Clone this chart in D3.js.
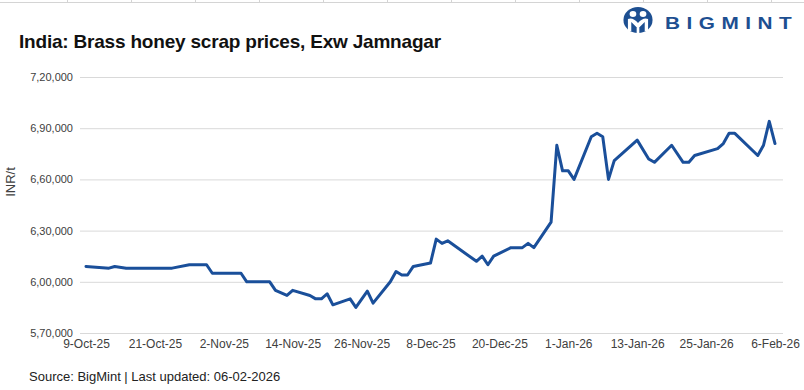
<!DOCTYPE html>
<html>
<head>
<meta charset="utf-8">
<script src="https://cdn.jsdelivr.net/npm/d3@7"></script>
<style>
  html, body { margin: 0; padding: 0; background: #fff; }
  svg { display: block; }
</style>
</head>
<body>
<svg id="chart" width="804" height="390"></svg>
<script>
// ---- data ----
const dates = [
  "2025-10-09","2025-10-13","2025-10-14","2025-10-16","2025-10-24","2025-10-27","2025-10-30","2025-10-31",
  "2025-11-05","2025-11-06","2025-11-10","2025-11-11","2025-11-13","2025-11-14","2025-11-17","2025-11-18",
  "2025-11-19","2025-11-20","2025-11-21","2025-11-24","2025-11-25","2025-11-27","2025-11-28","2025-12-01",
  "2025-12-02","2025-12-03","2025-12-04","2025-12-05","2025-12-08","2025-12-09","2025-12-10","2025-12-11",
  "2025-12-16","2025-12-17","2025-12-18","2025-12-19","2025-12-22","2025-12-24","2025-12-25","2025-12-26",
  "2025-12-29","2025-12-30","2025-12-31","2026-01-01","2026-01-02","2026-01-05","2026-01-06","2026-01-07",
  "2026-01-08","2026-01-09","2026-01-13","2026-01-15","2026-01-16","2026-01-19","2026-01-21","2026-01-22",
  "2026-01-23","2026-01-27","2026-01-28","2026-01-29","2026-01-30","2026-02-03","2026-02-04","2026-02-05",
  "2026-02-06"
];
const prices = [
  609000,608000,609000,608000,608000,610000,610000,605000,
  605000,600000,600000,595000,592000,595000,592000,590000,
  590000,593000,586500,590000,585000,594500,587500,600000,
  606000,604000,604000,609000,611000,625000,622500,624000,
  612000,615000,610000,615000,620000,620000,622500,620000,
  635000,680000,665000,665000,660000,685000,687000,685000,
  660000,671000,683000,672000,670000,680000,670000,670000,
  674000,678000,681000,687000,687000,674000,680000,694000,
  681000
];
const xTickDates = ["2025-10-09","2025-10-21","2025-11-02","2025-11-14","2025-11-26","2025-12-08",
                    "2025-12-20","2026-01-01","2026-01-13","2026-01-25","2026-02-06"];
const yTicks = [570000, 600000, 630000, 660000, 690000, 720000];

const titleText = "India: Brass honey scrap prices, Exw Jamnagar";
const yAxisLabel = "INR/t";
const sourceText = "Source: BigMint | Last updated: 06-02-2026";
const brandText = "BIGMINT";

// ---- setup ----
const parse = d3.utcParse("%Y-%m-%d");
const fmtTick = d3.utcFormat("%-d-%b-%y");
function fmtIndian(n) {
  const s = String(Math.round(n));
  if (s.length <= 3) return s;
  const last3 = s.slice(-3);
  let rest = s.slice(0, -3);
  const parts = [];
  while (rest.length > 2) { parts.unshift(rest.slice(-2)); rest = rest.slice(0, -2); }
  if (rest.length) parts.unshift(rest);
  return parts.join(",") + "," + last3;
}

const data = dates.map((d, i) => ({ date: parse(d), value: prices[i] }));

const svg = d3.select("#chart");
const font = "'Liberation Sans', Arial, sans-serif";

const x = d3.scaleUtc()
  .domain([parse(xTickDates[0]), parse(xTickDates[xTickDates.length - 1])])
  .range([86, 775]);
const y = d3.scaleLinear().domain([570000, 720000]).range([333, 77]);

// faint top border artefact
svg.append("line").attr("x1", 0).attr("x2", 804).attr("y1", 2.5).attr("y2", 2.5)
  .attr("stroke", "#d4d4d4").attr("stroke-width", 1);
svg.append("g").selectAll("line").data(d3.range(67, 804, 64)).join("line")
  .attr("x1", d => d + 0.5).attr("x2", d => d + 0.5).attr("y1", 0).attr("y2", 3)
  .attr("stroke", "#d4d4d4").attr("stroke-width", 1);

// title
svg.append("text").attr("x", 19).attr("y", 48)
  .attr("font-family", font).attr("font-weight", "bold").attr("font-size", 19)
  .attr("letter-spacing", -0.2).attr("fill", "#111")
  .text(titleText);

// logo
const blue = "#1d4f91";
const logo = svg.append("g").attr("transform", "translate(638,20) scale(1.12,1)");
logo.append("circle").attr("r", 13).attr("fill", blue);
logo.append("circle").attr("cx", -4.5).attr("cy", -6).attr("r", 3).attr("fill", "#fff");
logo.append("circle").attr("cx", 4.5).attr("cy", -6).attr("r", 3).attr("fill", "#fff");
logo.append("path").attr("d", "M-9,11 L-9,-1 Q-4.5,-3 0,3 Q4.5,-3 9,-1 L9,11 L6,11 L6,2 L1.5,7 L-1.5,7 L-6,2 L-6,11 Z")
  .attr("fill", "#fff");
logo.append("path").attr("d", "M-1.2,7 L1.2,7 L1.2,13 L-1.2,13 Z").attr("fill", "#fff");
svg.append("text").attr("transform", "translate(665,28.5) scale(1.3,1)")
  .attr("font-family", font).attr("font-weight", "bold").attr("font-size", 16)
  .attr("letter-spacing", 5).attr("fill", blue).text(brandText);

// gridlines
svg.append("g").selectAll("line").data(yTicks).join("line")
  .attr("x1", 80).attr("x2", 783)
  .attr("y1", d => y(d) + 0.5).attr("y2", d => y(d) + 0.5)
  .attr("stroke", "#d9d9d9").attr("stroke-width", 1);

// y axis labels
const yAxis = d3.axisLeft(y).tickValues(yTicks).tickFormat(fmtIndian).tickSize(0).tickPadding(0);
const gy = svg.append("g").attr("transform", "translate(73,0)").call(yAxis);
gy.select(".domain").remove();
gy.selectAll("text").attr("font-family", font).attr("font-size", 11).attr("fill", "#404040");

// x axis labels
const xAxis = d3.axisBottom(x).tickValues(xTickDates.map(parse)).tickFormat(fmtTick).tickSize(0).tickPadding(0);
const gx = svg.append("g").attr("transform", "translate(0,339)").call(xAxis);
gx.select(".domain").remove();
gx.selectAll("text").attr("font-family", font).attr("font-size", 12).attr("fill", "#404040");

// y-axis title
svg.append("text").attr("transform", "translate(15,182) rotate(-90)")
  .attr("text-anchor", "middle").attr("font-family", font).attr("font-size", 13)
  .attr("fill", "#404040").text(yAxisLabel);

// line
const line = d3.line().x(d => x(d.date)).y(d => y(d.value));
svg.append("path").datum(data).attr("d", line)
  .attr("fill", "none").attr("stroke", "#1a4f9a").attr("stroke-width", 3)
  .attr("stroke-linejoin", "round").attr("stroke-linecap", "round");

// source
svg.append("text").attr("x", 29).attr("y", 381)
  .attr("font-family", font).attr("font-size", 13).attr("fill", "#222")
  .text(sourceText);
</script>
</body>
</html>
